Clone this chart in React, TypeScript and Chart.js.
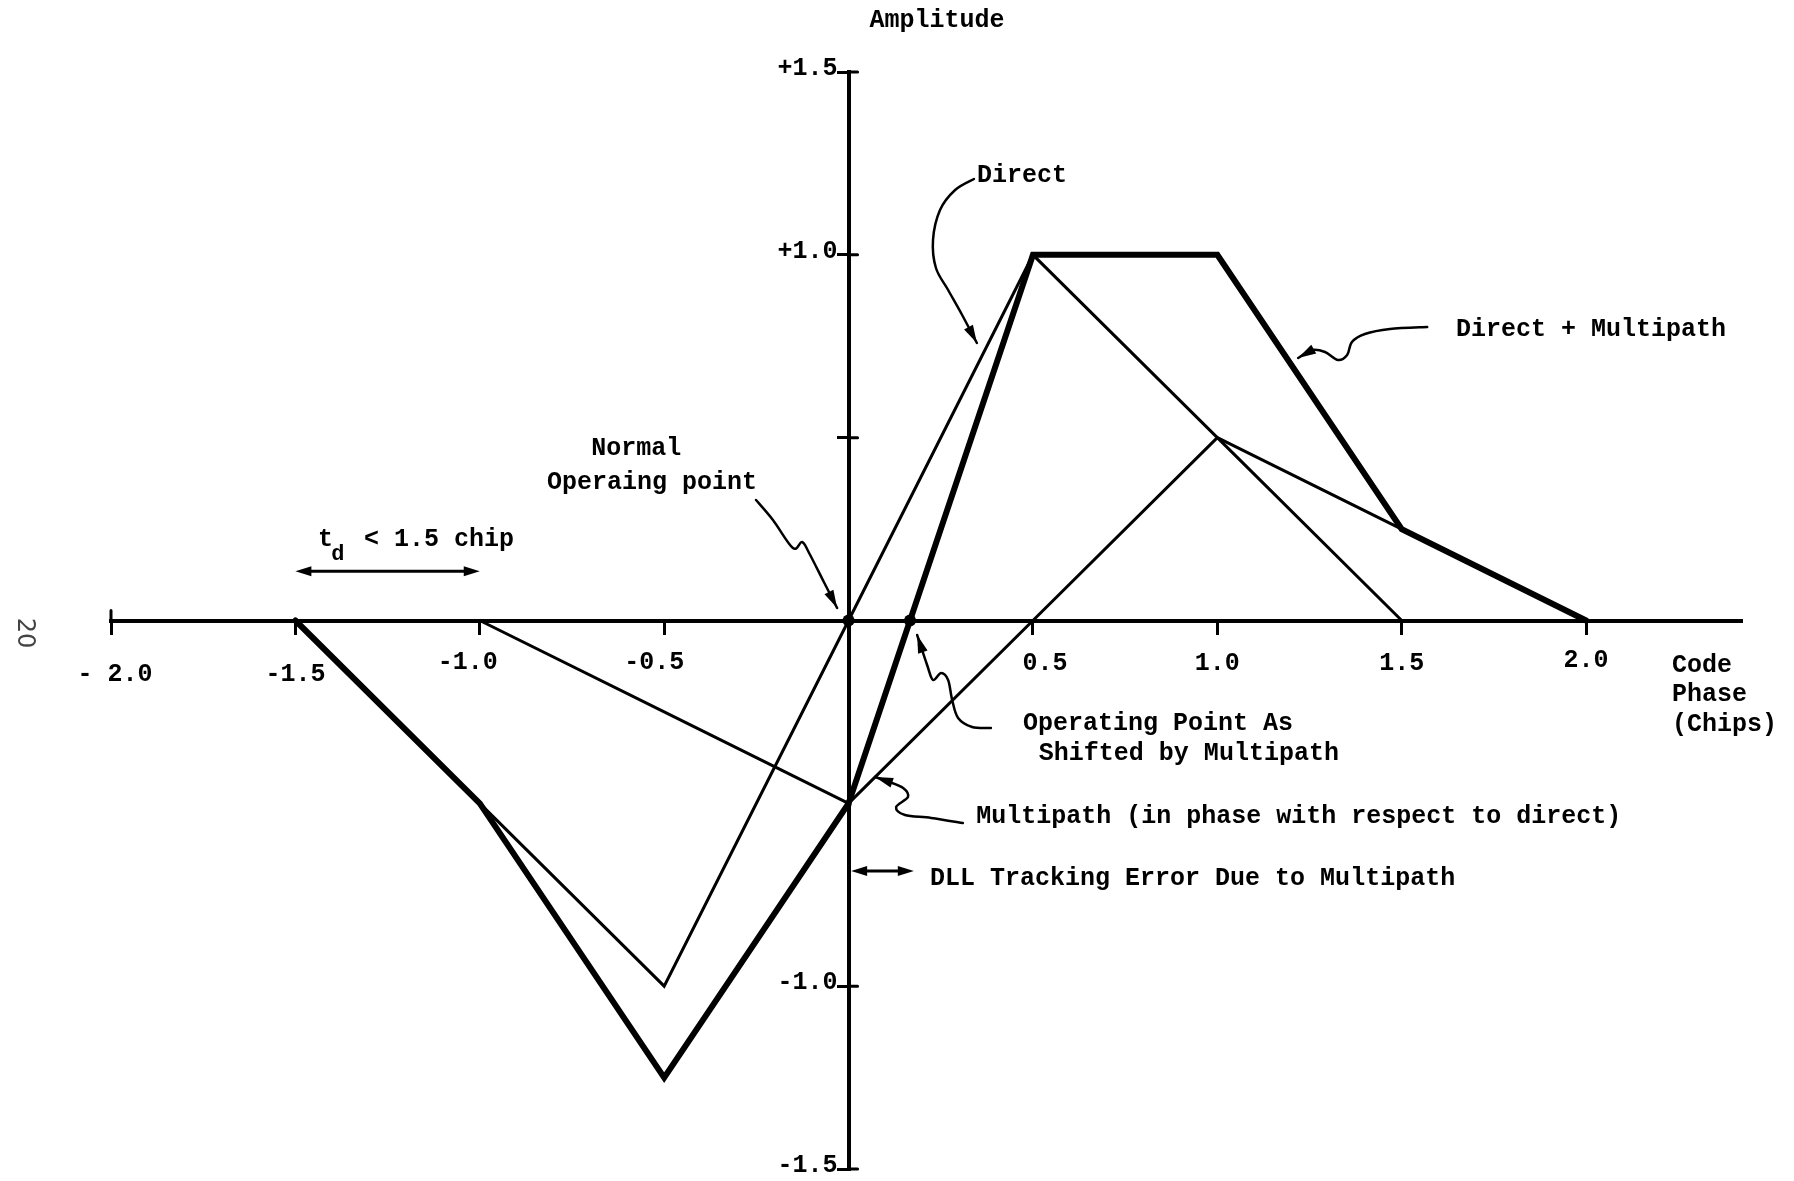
import React, { useEffect, useRef } from "react";
import { Chart, registerables } from "chart.js";

Chart.register(...registerables);

// ---------------- data (code phase in chips, amplitude) ----------------
const directPhase = [-1.5, -1.0, -0.5, 0, 0.5, 1.0, 1.5];
const directAmp = [0, -0.5, -1.0, 0, 1.0, 0.5, 0];

const multipathPhase = [-1.0, -0.5, 0, 0.5, 1.0, 1.5, 2.0];
const multipathAmp = [0, -0.25, -0.5, 0, 0.5, 0.25, 0];

const sumPhase = [-1.5, -1.0, -0.5, 0, 0.5, 1.0, 1.5, 2.0];
const sumAmp = [0, -0.5, -1.25, -0.5, 1.0, 1.0, 0.25, 0];

const operatingPhase = [0, 1 / 6];
const operatingAmp = [0, 0];

const junctionPhase = [0];
const junctionAmp = [-0.5];

const xTickValues = [-2.0, -1.5, -1.0, -0.5, 0.5, 1.0, 1.5, 2.0];
const xTickLabels = ["- 2.0", "-1.5", "-1.0", "-0.5", "0.5", "1.0", "1.5", "2.0"];
const yTickValues = [1.5, 1.0, 0.5, -1.0, -1.5];
const yTickLabels = ["+1.5", "+1.0", "", "-1.0", "-1.5"];

const xMin = -2.0;
const xMax = 2.42;
const yMin = -1.5;
const yMax = 1.5;

// ---------------- styles / annotation placement ----------------
const FONT = '"Liberation Mono", "DejaVu Sans Mono", monospace';
const MAIN_FONT = `bold 25px ${FONT}`;
const CAP_HALF = 8; // half cap height, to centre text on a y value

// pixel nudges of x tick labels relative to their tick
const xLabelDx = [4, 0, -12, -10, 12, 0, 0, 0];
const xLabelDy = [52, 52, 40, 40, 41, 41, 41, 38];

type Txt = { text: string; x: number; y: number; align: CanvasTextAlign };
const texts: Txt[] = [
  { text: "Amplitude", x: 0.24, y: 1.645, align: "center" },
  { text: "Direct", x: 0.348, y: 1.221, align: "left" },
  { text: "Direct + Multipath", x: 1.647, y: 0.8, align: "left" },
  { text: "Normal", x: -0.576, y: 0.4745, align: "center" },
  { text: "Operaing point", x: -0.533, y: 0.3815, align: "center" },
  { text: "Operating Point As", x: 0.473, y: -0.2776, align: "left" },
  { text: "Shifted by Multipath", x: 0.516, y: -0.3596, align: "left" },
  { text: "Multipath (in phase with respect to direct)", x: 0.346, y: -0.532, align: "left" },
  { text: "DLL Tracking Error Due to Multipath", x: 0.221, y: -0.7015, align: "left" },
  { text: "Code", x: 2.233, y: -0.119, align: "left" },
  { text: "Phase", x: 2.233, y: -0.198, align: "left" },
  { text: "(Chips)", x: 2.233, y: -0.28, align: "left" },
];

// leader lines (data coordinates), arrow head at the last point
const leaders: number[][][] = [
  // Direct
  [[0.34, 1.2074], [0.289, 1.1773], [0.248, 1.1226], [0.229, 1.0406], [0.237, 0.964], [0.27, 0.9038], [0.308, 0.8355], [0.348, 0.7589]],
  // Normal operating point
  [[-0.251, 0.3295], [-0.205, 0.2748], [-0.151, 0.1983], [-0.126, 0.2147], [-0.107, 0.1846], [-0.067, 0.1053], [-0.031, 0.0342]],
  // Operating point as shifted
  [[0.386, -0.294], [0.335, -0.2912], [0.297, -0.2666], [0.281, -0.2174], [0.27, -0.1627], [0.251, -0.1436], [0.229, -0.1627], [0.213, -0.1217], [0.186, -0.0397]],
  // Multipath
  [[0.31, -0.5538], [0.224, -0.54], [0.153, -0.5319], [0.129, -0.51], [0.161, -0.4827], [0.148, -0.458], [0.104, -0.439], [0.072, -0.428]],
  // Direct + Multipath
  [[1.569, 0.8026], [1.468, 0.7972], [1.4, 0.7835], [1.365, 0.7616], [1.352, 0.7261], [1.327, 0.7124], [1.292, 0.7343], [1.257, 0.7397], [1.219, 0.7179]],
];

// double-headed dimension arrows: [x1, x2, y]
const dimArrows = [
  [-1.5, -1.0, 0.135], // t_d
  [0.007, 0.177, -0.685], // DLL tracking error
];

const pts = (xs: number[], ys: number[]) => xs.map((x, i) => ({ x, y: ys[i] }));

function drawHead(ctx: CanvasRenderingContext2D, fx: number, fy: number, tx: number, ty: number, len = 17, half = 5) {
  const a = Math.atan2(ty - fy, tx - fx);
  ctx.beginPath();
  ctx.moveTo(tx, ty);
  ctx.lineTo(tx - len * Math.cos(a) + half * Math.sin(a), ty - len * Math.sin(a) - half * Math.cos(a));
  ctx.lineTo(tx - len * Math.cos(a) - half * Math.sin(a), ty - len * Math.sin(a) + half * Math.cos(a));
  ctx.closePath();
  ctx.fill();
}

function smooth(ctx: CanvasRenderingContext2D, p: number[][]) {
  ctx.moveTo(p[0][0], p[0][1]);
  for (let i = 0; i < p.length - 1; i++) {
    const p0 = p[i - 1] || p[i];
    const p1 = p[i];
    const p2 = p[i + 1];
    const p3 = p[i + 2] || p2;
    ctx.bezierCurveTo(
      p1[0] + (p2[0] - p0[0]) / 6, p1[1] + (p2[1] - p0[1]) / 6,
      p2[0] - (p3[0] - p1[0]) / 6, p2[1] - (p3[1] - p1[1]) / 6,
      p2[0], p2[1]
    );
  }
}

const annotationPlugin = {
  id: "annotations",
  afterDraw(chart: any) {
    const ctx: CanvasRenderingContext2D = chart.ctx;
    const xs = chart.scales.x;
    const ys = chart.scales.y;
    const px = (v: number) => xs.getPixelForValue(v);
    const py = (v: number) => ys.getPixelForValue(v);
    ctx.save();
    ctx.fillStyle = "#000";
    ctx.strokeStyle = "#000";
    ctx.lineCap = "round";
    ctx.lineJoin = "round";

    // extra tick stubs (right side of y ticks, top of the -2.0 end cap)
    ctx.lineWidth = 3;
    ctx.beginPath();
    yTickValues.forEach((v) => {
      ctx.moveTo(px(0), py(v));
      ctx.lineTo(px(0) + 9, py(v));
    });
    ctx.moveTo(px(xMin), py(0));
    ctx.lineTo(px(xMin), py(0) - 10);
    ctx.stroke();

    ctx.font = MAIN_FONT;
    ctx.textBaseline = "alphabetic";

    // x tick labels
    ctx.textAlign = "center";
    xTickValues.forEach((v, i) => {
      ctx.fillText(xTickLabels[i], px(v) + xLabelDx[i], py(0) + xLabelDy[i] + CAP_HALF);
    });
    // y tick labels
    ctx.textAlign = "right";
    yTickValues.forEach((v, i) => {
      if (yTickLabels[i]) ctx.fillText(yTickLabels[i], px(0) - 11, py(v) - 5 + CAP_HALF);
    });

    // annotation texts
    texts.forEach((t) => {
      ctx.textAlign = t.align;
      ctx.fillText(t.text, px(t.x), py(t.y) + CAP_HALF);
    });

    // t_d < 1.5 chip
    ctx.textAlign = "left";
    ctx.fillText("t", px(-1.439), py(0.2256) + CAP_HALF);
    ctx.font = `bold 22px ${FONT}`;
    ctx.fillText("d", px(-1.403), py(0.1873) + CAP_HALF);
    ctx.font = MAIN_FONT;
    ctx.fillText("< 1.5 chip", px(-1.314), py(0.2256) + CAP_HALF);

    // leaders
    ctx.lineWidth = 2.5;
    leaders.forEach((l) => {
      const p = l.map(([x, y]) => [px(x), py(y)]);
      ctx.beginPath();
      smooth(ctx, p);
      ctx.stroke();
      const n = p.length;
      drawHead(ctx, p[n - 2][0], p[n - 2][1], p[n - 1][0], p[n - 1][1], 18, 5);
    });

    // dimension arrows
    ctx.lineWidth = 3;
    dimArrows.forEach(([a, b, y]) => {
      ctx.beginPath();
      ctx.moveTo(px(a) + 10, py(y));
      ctx.lineTo(px(b) - 10, py(y));
      ctx.stroke();
      drawHead(ctx, px(b), py(y), px(a), py(y), 16, 5);
      drawHead(ctx, px(a), py(y), px(b), py(y), 16, 5);
    });

    // page number
    ctx.save();
    ctx.translate(px(-2.235), py(-0.034));
    ctx.rotate(Math.PI / 2);
    ctx.font = `24px "DejaVu Sans", sans-serif`;
    ctx.fillStyle = "#444";
    ctx.textAlign = "center";
    ctx.textBaseline = "middle";
    ctx.fillText("20", 0, 0);
    ctx.restore();

    ctx.restore();
  },
};

export default function App() {
  const ref = useRef<HTMLCanvasElement>(null);
  useEffect(() => {
    const line = (data: any, width: number) => ({
      data,
      showLine: true,
      borderColor: "#000",
      backgroundColor: "#000",
      borderWidth: width,
      pointRadius: 0,
      fill: false,
      tension: 0,
      borderJoinStyle: "miter" as const,
      borderCapStyle: "round" as const,
    });
    const chart = new Chart(ref.current as HTMLCanvasElement, {
      type: "scatter",
      data: {
        datasets: [
          { label: "Direct", ...line(pts(directPhase, directAmp), 3) },
          { label: "Multipath", ...line(pts(multipathPhase, multipathAmp), 3) },
          { label: "Direct + Multipath", ...line(pts(sumPhase, sumAmp), 6) },
          {
            label: "Operating points",
            data: pts(operatingPhase, operatingAmp),
            showLine: false,
            pointRadius: 6,
            pointBackgroundColor: "#000",
            pointBorderWidth: 0,
          },
          {
            label: "Junction",
            data: pts(junctionPhase, junctionAmp),
            showLine: false,
            pointRadius: 4,
            pointStyle: "rect",
            pointBackgroundColor: "#000",
            pointBorderWidth: 0,
          },
        ],
      } as any,
      options: {
        responsive: false,
        animation: false,
        events: [],
        layout: { padding: { left: 111, right: 53, top: 72, bottom: 12 } },
        plugins: { legend: { display: false }, tooltip: { enabled: false } },
        scales: {
          x: {
            type: "linear",
            min: xMin,
            max: xMax,
            position: { y: 0 } as any,
            afterBuildTicks: (s: any) => {
              s.ticks = xTickValues.map((v) => ({ value: v }));
            },
            ticks: { display: false },
            grid: {
              display: true,
              drawOnChartArea: false,
              drawTicks: true,
              tickLength: 12,
              tickWidth: 3,
              tickColor: "#000",
              color: "#000",
              lineWidth: 3,
            },
            border: { display: true, color: "#000", width: 4 },
          },
          y: {
            type: "linear",
            min: yMin,
            max: yMax,
            position: { x: 0 } as any,
            afterBuildTicks: (s: any) => {
              s.ticks = yTickValues.map((v) => ({ value: v }));
            },
            ticks: { display: false },
            grid: {
              display: true,
              drawOnChartArea: false,
              drawTicks: true,
              tickLength: 10,
              tickWidth: 3,
              tickColor: "#000",
              color: "#000",
              lineWidth: 3,
            },
            border: { display: true, color: "#000", width: 4 },
          },
        },
      } as any,
      plugins: [annotationPlugin],
    });
    return () => chart.destroy();
  }, []);
  return (
    <div style={{ position: "fixed", left: 0, top: 0, width: 1794, height: 1181, background: "#fff" }}>
      <canvas ref={ref} width={1794} height={1181} style={{ display: "block", width: 1794, height: 1181 }} />
    </div>
  );
}
